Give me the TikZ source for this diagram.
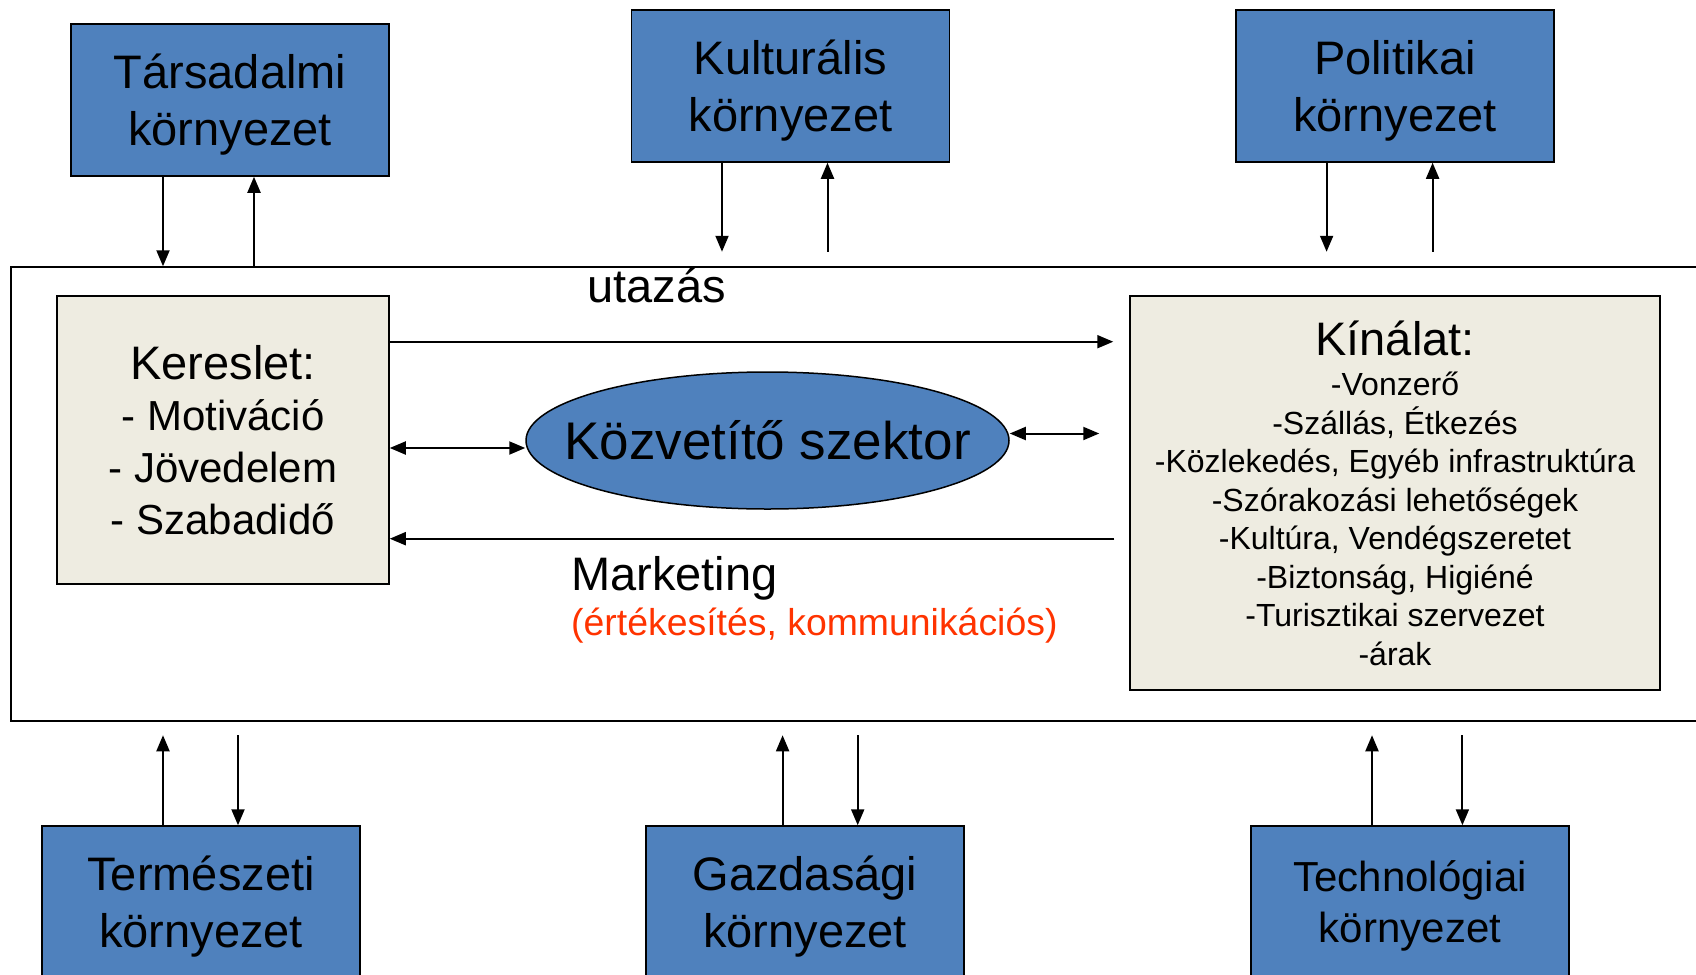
\documentclass[tikz,border=0pt]{standalone}
\usepackage{fontspec}
\setmainfont{Liberation Sans}
\usetikzlibrary{shapes.geometric,arrows.meta}
\definecolor{envblue}{HTML}{4F81BD}
\definecolor{boxtan}{HTML}{EEECE1}
\definecolor{mktred}{HTML}{FF3300}

\begin{document}
\begin{tikzpicture}
            [x=1pt,y=-1pt,
             env/.style={rectangle,draw=black,line width=1.5pt,fill=envblue,inner sep=0pt,
                         minimum width=318pt,minimum height=152pt,align=center,text depth=0pt,
                         font=\fontsize{47}{56.7}\selectfont},
             side/.style={rectangle,draw=black,line width=1.5pt,fill=boxtan,inner sep=0pt,align=center},
             caption/.style={anchor=base west,inner sep=0pt,font=\fontsize{47}{56}\selectfont},
             arr/.style={line width=2pt,-{Triangle[length=16pt,width=13pt]}},
             dbl/.style={line width=2pt,{Triangle[length=16pt,width=13pt]}-{Triangle[length=16pt,width=13pt]}}]
            \clip (0,0) rectangle (1696,974);
            \node[rectangle,draw=black,line width=1.5pt,minimum width=1709pt,minimum height=454pt] (frame) at (865.5,494) {};

            \node[env] (tars) at (230,100) {Társadalmi\\környezet};
            \node[env] (kult) at (790.5,86) {Kulturális\\környezet};
            \node[env] (pol) at (1395,86) {Politikai\\környezet};
            \node[env] (term) at (201,902) {Természeti\\környezet};
            \node[env] (gazd) at (805,902) {Gazdasági\\környezet};
            \node[env,font=\fontsize{42}{51}\selectfont] (tech) at (1410,902) {Technológiai\\környezet};

            \node[side,minimum width=332pt,minimum height=288pt,font=\fontsize{42}{51.8}\selectfont] (keres) at (223,440)
              {{\fontsize{47}{51.8}\selectfont Kereslet:}\\- Motiváció\\- Jövedelem\\- Szabadidő};
            \node[side,minimum width=530pt,minimum height=394pt,font=\fontsize{32}{38.5}\selectfont] (kinal) at (1395,493)
              {{\fontsize{47}{48}\selectfont Kínálat:}\\[2pt]-Vonzerő\\-Szállás, Étkezés\\-Közlekedés, Egyéb infrastruktúra\\
               -Szórakozási lehetőségek\\-Kultúra, Vendégszeretet\\-Biztonság, Higiéné\\-Turisztikai szervezet\\-árak};
            \node[ellipse,draw=black,line width=1.5pt,fill=envblue,inner sep=0pt,minimum width=483pt,minimum height=137pt,
                  label={[font=\fontsize{53}{60}\selectfont]center:Közvetítő szektor}] (kozv) at (767.5,440.5) {};

            \node[caption] (utazas) at (587,302) {utazás};
            \node[caption] (mkt) at (571,590) {Marketing};
            \node[caption,text=mktred,font=\fontsize{37.4}{44}\selectfont] (mktsub) at (571,635) {(értékesítés, kommunikációs)};

            \draw[arr] ([xshift=-67pt]tars.south) -- ([xshift=-67pt]tars.south |- frame.north);
            \draw[arr] ([xshift=24pt]tars.south |- frame.north) -- ([xshift=24pt]tars.south);
            \draw[arr] ([xshift=-68.5pt]kult.south) -- ([xshift=-68.5pt,yshift=-89pt]kult.south);
            \draw[arr] ([xshift=37pt,yshift=-89pt]kult.south) -- ([xshift=37pt]kult.south);
            \draw[arr] ([xshift=-68.4pt]pol.south) -- ([xshift=-68.4pt,yshift=-89pt]pol.south);
            \draw[arr] ([xshift=37.6pt,yshift=-89pt]pol.south) -- ([xshift=37.6pt]pol.south);

            \draw[arr] ([xshift=-38pt]term.north) -- ([xshift=-38pt,yshift=90pt]term.north);
            \draw[arr] ([xshift=37pt,yshift=90pt]term.north) -- ([xshift=37pt]term.north);
            \draw[arr] ([xshift=-22.4pt]gazd.north) -- ([xshift=-22.4pt,yshift=90pt]gazd.north);
            \draw[arr] ([xshift=52.7pt,yshift=90pt]gazd.north) -- ([xshift=52.7pt]gazd.north);
            \draw[arr] ([xshift=-38pt]tech.north) -- ([xshift=-38pt,yshift=90pt]tech.north);
            \draw[arr] ([xshift=52.4pt,yshift=90pt]tech.north) -- ([xshift=52.4pt]tech.north);

            \draw[arr,shorten >=16pt] ([yshift=98.3pt]keres.east) -- ([yshift=98.3pt]keres.east -| kinal.west);
            \draw[dbl] ([yshift=-8pt]keres.east) -- ([yshift=-8pt]keres.east -| kozv.west);
            \draw[dbl,shorten >=30pt] ([yshift=7pt]kozv.east) -- ([yshift=7pt]kozv.east -| kinal.west);
            \draw[arr,shorten <=15pt] ([yshift=-98.7pt]keres.east -| kinal.west) -- ([yshift=-98.7pt]keres.east);
          \end{tikzpicture}
\end{document}
